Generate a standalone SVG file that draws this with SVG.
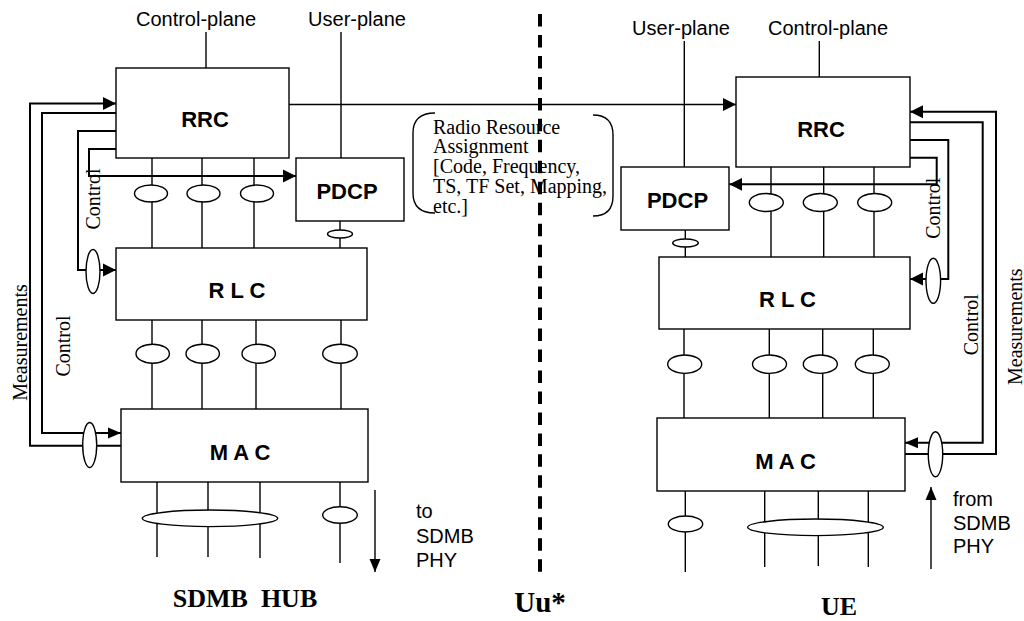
<svg xmlns="http://www.w3.org/2000/svg" width="1024" height="621" viewBox="0 0 1024 621">
<defs>
<marker id="ah" markerUnits="userSpaceOnUse" markerWidth="14" markerHeight="14" refX="13" refY="7" orient="auto" viewBox="0 0 14 14">
<path d="M0,0.5 L13,7 L0,13.5 z" fill="#000"/>
</marker>
<marker id="ahs" markerUnits="userSpaceOnUse" markerWidth="14" markerHeight="12" refX="13" refY="6" orient="auto" viewBox="0 0 14 12">
<path d="M0,0.5 L13,6 L0,11.5 z" fill="#000"/>
</marker>
</defs>
<style>
.box{fill:#fff;stroke:#000;stroke-width:1.4}
.ln{fill:none;stroke:#000;stroke-width:1.4}
.lp{fill:none;stroke:#000;stroke-width:2}
.el{fill:#fff;stroke:#000;stroke-width:1.4}
.lab{font-family:"Liberation Sans",Arial,sans-serif;font-weight:bold;font-size:22px;text-anchor:middle}
.sans{font-family:"Liberation Sans",Arial,sans-serif;font-size:20px}
.ser{font-family:"Liberation Serif","Times New Roman",serif;font-size:20px}
.big{font-family:"Liberation Serif","Times New Roman",serif;font-weight:bold;font-size:26px;text-anchor:middle}
</style>
<rect width="1024" height="621" fill="#fff"/>

<g id="connectors">
<line class="ln" x1="206" y1="32" x2="206" y2="68"/>
<line class="ln" x1="341" y1="32" x2="341" y2="158"/>
<line class="ln" x1="684.3" y1="41" x2="684.3" y2="167"/>
<line class="ln" x1="819.3" y1="41" x2="819.3" y2="77"/>
<line class="ln" x1="288" y1="104.5" x2="736" y2="104.5" marker-end="url(#ah)"/>
<line class="ln" x1="152" y1="158" x2="152" y2="248"/>
<line class="ln" x1="202" y1="158" x2="202" y2="248"/>
<line class="ln" x1="254" y1="158" x2="254" y2="248"/>
<line class="ln" x1="340" y1="221" x2="340" y2="248"/>
<line class="ln" x1="152" y1="320" x2="152" y2="409"/>
<line class="ln" x1="202" y1="320" x2="202" y2="409"/>
<line class="ln" x1="256" y1="320" x2="256" y2="409"/>
<line class="ln" x1="341" y1="320" x2="341" y2="409"/>
<line class="ln" x1="157" y1="482" x2="157" y2="557"/>
<line class="ln" x1="208" y1="482" x2="208" y2="557"/>
<line class="ln" x1="260" y1="482" x2="260" y2="558"/>
<line class="ln" x1="340" y1="482" x2="340" y2="563"/>
<line class="ln" x1="375" y1="490" x2="375" y2="572" marker-end="url(#ahs)"/>
<path class="lp" d="M121,445.7 H30 V103.5 H116" marker-end="url(#ah)"/>
<path class="lp" d="M116,113 H42 V433 H121" marker-end="url(#ahs)"/>
<path class="lp" d="M116,131 H78 V270 H116" marker-end="url(#ah)"/>
<path class="lp" d="M116,149 H89 V176 H296" marker-end="url(#ah)"/>

<line class="ln" x1="771" y1="167" x2="771" y2="257"/>
<line class="ln" x1="823.7" y1="167" x2="823.7" y2="257"/>
<line class="ln" x1="874" y1="167" x2="874" y2="257"/>
<line class="ln" x1="685.3" y1="230" x2="685.3" y2="257"/>
<line class="ln" x1="684" y1="329" x2="684" y2="418"/>
<line class="ln" x1="769.3" y1="329" x2="769.3" y2="418"/>
<line class="ln" x1="822.7" y1="329" x2="822.7" y2="418"/>
<line class="ln" x1="873.3" y1="329" x2="873.3" y2="418"/>
<line class="ln" x1="685.3" y1="491" x2="685.3" y2="572"/>
<line class="ln" x1="764.7" y1="491" x2="764.7" y2="567"/>
<line class="ln" x1="818.3" y1="491" x2="818.3" y2="566"/>
<line class="ln" x1="868.3" y1="491" x2="868.3" y2="567"/>
<line class="ln" x1="931" y1="569" x2="931" y2="487" marker-end="url(#ahs)"/>
<path class="lp" d="M905,454 H996 V111.7 H910" marker-end="url(#ah)"/>
<path class="lp" d="M910,122.3 H982.7 V442.7 H905" marker-end="url(#ahs)"/>
<path class="lp" d="M910,140 H948.3 V279 H910" marker-end="url(#ah)"/>
<path class="lp" d="M910,157.7 H936.7 V184.3 H729.3" marker-end="url(#ah)"/>

<ellipse class="el" cx="151" cy="193.5" rx="16.5" ry="8.5"/>
<ellipse class="el" cx="203.5" cy="193.5" rx="16.5" ry="8.5"/>
<ellipse class="el" cx="257" cy="193.5" rx="16.5" ry="8.5"/>
<ellipse class="el" cx="340" cy="234" rx="12.5" ry="4"/>
<ellipse class="el" cx="152.7" cy="353.7" rx="16.7" ry="9.5"/>
<ellipse class="el" cx="202.7" cy="353.7" rx="16.7" ry="9.5"/>
<ellipse class="el" cx="258.7" cy="353.7" rx="16.7" ry="9.5"/>
<ellipse class="el" cx="340" cy="353.7" rx="17.3" ry="9.5"/>
<ellipse class="el" cx="210" cy="518.3" rx="67.7" ry="8.3"/>
<ellipse class="el" cx="340" cy="515" rx="17.3" ry="8.3"/>
<ellipse class="el" cx="93" cy="271.5" rx="7" ry="22"/>
<ellipse class="el" cx="89.7" cy="445" rx="7" ry="22.5"/>
<ellipse class="el" cx="766.3" cy="202.5" rx="17" ry="9"/>
<ellipse class="el" cx="820.3" cy="202.5" rx="17" ry="9"/>
<ellipse class="el" cx="874.7" cy="202.5" rx="17" ry="9"/>
<ellipse class="el" cx="685.5" cy="243" rx="12.8" ry="4"/>
<ellipse class="el" cx="684.7" cy="364.2" rx="17" ry="9.2"/>
<ellipse class="el" cx="769.5" cy="364.2" rx="17" ry="9.2"/>
<ellipse class="el" cx="820.3" cy="364.2" rx="17" ry="9.2"/>
<ellipse class="el" cx="872.3" cy="364.2" rx="17" ry="9.2"/>
<ellipse class="el" cx="685.5" cy="524" rx="17.2" ry="8"/>
<ellipse class="el" cx="815.5" cy="527.3" rx="67.8" ry="8.3"/>
<ellipse class="el" cx="933.3" cy="280.8" rx="7.3" ry="22.5"/>
<ellipse class="el" cx="935.5" cy="454.2" rx="7.2" ry="22.5"/>
</g>

<g id="rrc-hub">
<rect class="box" x="116" y="68" width="173" height="90"/>
<text class="lab" x="205" y="127">RRC</text>
</g>
<g id="pdcp-hub">
<rect class="box" x="296" y="158" width="108" height="63"/>
<text class="lab" x="347" y="199">PDCP</text>
</g>
<g id="rlc-hub">
<rect class="box" x="116" y="248" width="251" height="72"/>
<text class="lab" x="237" y="297.7">R L C</text>
</g>
<g id="mac-hub">
<rect class="box" x="121" y="409" width="247" height="73"/>
<text class="lab" x="240" y="460">M A C</text>
</g>

<g id="rrc-ue">
<rect class="box" x="736" y="77" width="174" height="90"/>
<text class="lab" x="821" y="136.7">RRC</text>
</g>
<g id="pdcp-ue">
<rect class="box" x="621" y="167" width="108" height="63"/>
<text class="lab" x="677.5" y="208">PDCP</text>
</g>
<g id="rlc-ue">
<rect class="box" x="659" y="257" width="251" height="72"/>
<text class="lab" x="787.5" y="306.7">R L C</text>
</g>
<g id="mac-ue">
<rect class="box" x="657" y="418" width="248" height="73"/>
<text class="lab" x="785.5" y="469">M A C</text>
</g>

<g id="labels">
<text class="sans" x="196" y="26" text-anchor="middle">Control-plane</text>
<text class="sans" x="357" y="26" text-anchor="middle">User-plane</text>
<text class="sans" x="681" y="35" text-anchor="middle">User-plane</text>
<text class="sans" x="828" y="35" text-anchor="middle">Control-plane</text>
<text class="ser" transform="translate(100,199) rotate(-90)" text-anchor="middle">Control</text>
<text class="ser" transform="translate(70,346) rotate(-90)" text-anchor="middle">Control</text>
<text class="ser" transform="translate(26.5,342.5) rotate(-90)" text-anchor="middle">Measurements</text>
<text class="ser" transform="translate(940,208.3) rotate(-90)" text-anchor="middle">Control</text>
<text class="ser" transform="translate(978.3,324.7) rotate(-90)" text-anchor="middle">Control</text>
<text class="ser" transform="translate(1021.5,326.7) rotate(-90)" text-anchor="middle">Measurements</text>
<text class="sans" x="416" y="518.3">to</text>
<text class="sans" x="416" y="543.3">SDMB</text>
<text class="sans" x="416" y="567.3">PHY</text>
<text class="sans" x="953" y="506">from</text>
<text class="sans" x="953" y="530">SDMB</text>
<text class="sans" x="953" y="553.3">PHY</text>
<text class="big" x="245" y="606.7" xml:space="preserve">SDMB  HUB</text>
<text class="big" x="540" y="611.7" style="font-size:29px">Uu*</text>
<text class="big" x="839" y="615">UE</text>
</g>

<g id="radio-resource-assignment">
<path class="ln" d="M435,113 Q413,113 413,133 V193 Q413,213 435,213"/>
<path class="ln" d="M593,115 Q613,115 613,135 V196 Q613,216 593,216"/>
<text class="ser" x="433" y="134">Radio Resource</text>
<text class="ser" x="433" y="153.3">Assignment</text>
<text class="ser" x="433" y="173.3">[Code, Frequency,</text>
<text class="ser" x="433" y="193.3">TS, TF Set, Mapping,</text>
<text class="ser" x="433" y="212.7">etc.]</text>
</g>

<g id="uu-boundary">
<line x1="540" y1="14" x2="540" y2="572" stroke="#000" stroke-width="4" stroke-dasharray="12.5 8.47"/>
</g>
</svg>
